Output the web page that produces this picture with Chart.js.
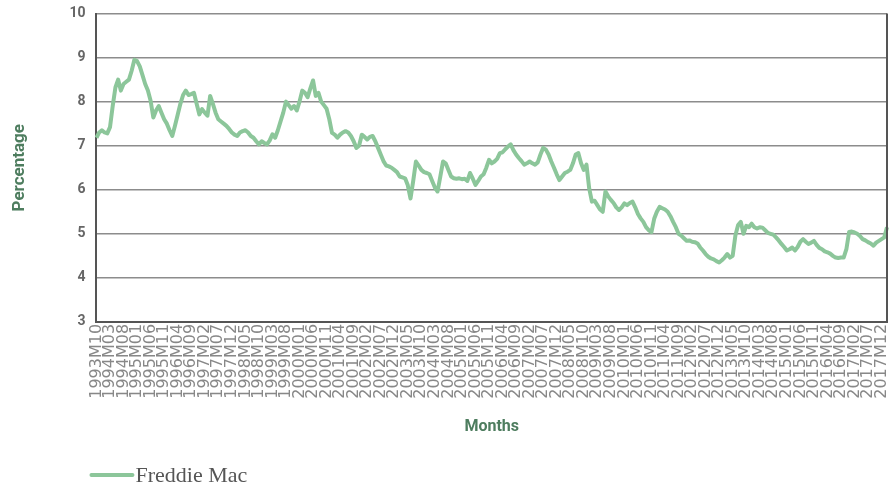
<!DOCTYPE html>
<html>
<head>
<meta charset="utf-8">
<script src="https://cdn.jsdelivr.net/npm/chart.js@4.4.1/dist/chart.umd.min.js"></script>
<style>
  html, body { margin: 0; padding: 0; background: #fff; }
  #wrap { width: 893px; height: 487px; position: relative; }
</style>
</head>
<body>
<div id="wrap"><canvas id="chart"></canvas></div>
<script>
// monthly series, first value = 1993M10
const START_YEAR = 1993;
const START_MONTH = 10;
const LABEL_STEP = 5;
const SERIES_NAME = 'Freddie Mac';

const rates = [
  7.18, 7.30, 7.35,
  7.30, 7.28, 7.42, 7.90, 8.32, 8.50, 8.25, 8.40, 8.45, 8.50, 8.70, 8.95,
  8.92, 8.80, 8.60, 8.40, 8.25, 8.02, 7.64, 7.80, 7.90, 7.75, 7.60, 7.50,
  7.35, 7.22, 7.45, 7.70, 7.95, 8.15, 8.25, 8.15, 8.17, 8.20, 7.95, 7.71,
  7.83, 7.75, 7.68, 8.13, 7.95, 7.75, 7.60, 7.55, 7.50, 7.45, 7.38, 7.30,
  7.25, 7.22, 7.30, 7.33, 7.35, 7.30, 7.22, 7.18, 7.10, 7.03, 7.10, 7.06,
  7.03, 7.12, 7.26, 7.18, 7.35, 7.55, 7.75, 8.00, 7.92, 7.84, 7.90, 7.80,
  8.00, 8.25, 8.20, 8.10, 8.30, 8.48, 8.13, 8.20, 8.00, 7.92, 7.84, 7.60,
  7.29, 7.25, 7.18, 7.25, 7.30, 7.33, 7.30, 7.22, 7.10, 6.95, 7.00, 7.25,
  7.20, 7.14, 7.20, 7.22, 7.10, 6.95, 6.80, 6.65, 6.55, 6.53, 6.50, 6.45,
  6.40, 6.30, 6.28, 6.26, 6.10, 5.80, 6.20, 6.64, 6.55, 6.45, 6.40, 6.38,
  6.35, 6.20, 6.05, 5.96, 6.30, 6.64, 6.60, 6.45, 6.30, 6.26, 6.25, 6.26,
  6.24, 6.25, 6.20, 6.38, 6.25, 6.11, 6.20, 6.30, 6.35, 6.50, 6.68, 6.60,
  6.64, 6.70, 6.83, 6.85, 6.92, 6.98, 7.03, 6.90, 6.80, 6.72, 6.65, 6.57,
  6.60, 6.64, 6.60, 6.57, 6.62, 6.80, 6.95, 6.91, 6.80, 6.64, 6.50, 6.35,
  6.22, 6.30, 6.38, 6.41, 6.45, 6.60, 6.80, 6.83, 6.60, 6.45, 6.57, 6.03,
  5.73, 5.75, 5.65, 5.55, 5.50, 5.96, 5.85, 5.77, 5.70, 5.60, 5.54, 5.60,
  5.69, 5.65, 5.70, 5.73, 5.60, 5.45, 5.35, 5.27, 5.15, 5.08, 5.04, 5.34,
  5.50, 5.61, 5.58, 5.55, 5.50, 5.40, 5.27, 5.15, 5.00, 4.96, 4.90, 4.84,
  4.85, 4.82, 4.81, 4.78, 4.69, 4.62, 4.54, 4.48, 4.44, 4.42, 4.38, 4.35,
  4.40, 4.46, 4.54, 4.46, 4.50, 4.96, 5.20, 5.27, 5.00, 5.18, 5.15, 5.23,
  5.15, 5.12, 5.15, 5.14, 5.08, 5.02, 5.00, 4.98, 4.92, 4.85, 4.77, 4.70,
  4.62, 4.65, 4.69, 4.62, 4.70, 4.82, 4.88, 4.82, 4.77, 4.80, 4.84, 4.75,
  4.68, 4.65, 4.60, 4.58, 4.55, 4.50, 4.46, 4.45, 4.46, 4.46, 4.65, 5.04,
  5.05, 5.03, 5.00, 4.95, 4.88, 4.85, 4.81, 4.78, 4.73, 4.80, 4.84, 4.88,
  4.92, 5.15
];

const months = rates.map((_, i) => {
  const m = START_MONTH - 1 + i;
  return `${START_YEAR + Math.floor(m / 12)}M${String(m % 12 + 1).padStart(2, '0')}`;
});

const Y_MIN = 3;
const Y_MAX = 10;

const TITLE_COLOR = '#4e7d5f';
const LINE_COLOR = '#8cc69a';

// right frame line + legend drawn under the plot
const frameLegendPlugin = {
  id: 'frameLegend',
  afterDraw(chart) {
    const { ctx, chartArea } = chart;
    const { top, bottom, left, right } = chartArea;
    ctx.save();
    ctx.strokeStyle = '#555';
    ctx.lineWidth = 2;
    ctx.beginPath();
    ctx.moveTo(right, top);
    ctx.lineTo(right, bottom);
    ctx.stroke();

    const ds = chart.data.datasets[0];
    const lx = left - 5;
    const ly = 475;
    ctx.strokeStyle = ds.borderColor;
    ctx.lineWidth = 4;
    ctx.lineCap = 'round';
    ctx.beginPath();
    ctx.moveTo(lx, ly);
    ctx.lineTo(lx + 41, ly);
    ctx.stroke();
    ctx.fillStyle = '#555';
    ctx.font = '22px "Liberation Serif", serif';
    ctx.textBaseline = 'alphabetic';
    ctx.fillText(ds.label, lx + 44, ly + 7);
    ctx.restore();
  }
};

new Chart(document.getElementById('chart'), {
  type: 'line',
  plugins: [frameLegendPlugin],
  data: {
    labels: months,
    datasets: [{
      label: SERIES_NAME,
      data: rates,
      borderColor: LINE_COLOR,
      backgroundColor: LINE_COLOR,
      borderWidth: 4,
      borderJoinStyle: 'round',
      tension: 0,
      pointRadius: 0,
      fill: false
    }]
  },
  options: {
    responsive: true,
    maintainAspectRatio: false,
    animation: false,
    layout: { padding: { top: 13.5, right: 6, bottom: 50, left: 0 } },
    plugins: { legend: { display: false }, tooltip: { enabled: false } },
    scales: {
      x: {
        offset: false,
        afterFit(scale) { scale.paddingLeft = 0; scale.paddingRight = 0; },
        grid: { display: false, drawTicks: false },
        border: { display: true, color: '#555', width: 2 },
        ticks: {
          autoSkip: false,
          minRotation: 90,
          maxRotation: 90,
          padding: 2,
          color: '#888',
          font: { family: '"DejaVu Sans", sans-serif', size: 16 },
          callback(value, index) { return index % LABEL_STEP === 0 ? this.getLabelForValue(value) : ''; }
        },
        title: {
          display: true,
          text: 'Months',
          color: TITLE_COLOR,
          font: { family: 'Roboto, sans-serif', size: 16, weight: 'bold' },
          padding: { top: 17, bottom: 0 }
        }
      },
      y: {
        min: Y_MIN,
        max: Y_MAX,
        afterFit(scale) { scale.paddingTop = 0; scale.paddingBottom = 0; },
        grid: { color: '#8c8c8c', lineWidth: 1.5, drawTicks: false },
        border: { display: true, color: '#555', width: 2 },
        ticks: {
          stepSize: 1,
          padding: 11,
          color: '#666',
          font: { family: '"Liberation Sans Narrow", Roboto, sans-serif', size: 14, weight: 'bold' }
        },
        title: {
          display: true,
          text: 'Percentage',
          color: TITLE_COLOR,
          font: { family: 'Roboto, sans-serif', size: 17, weight: 'bold' },
          padding: { top: 10, bottom: 28 }
        }
      }
    }
  }
});
</script>
</body>
</html>
